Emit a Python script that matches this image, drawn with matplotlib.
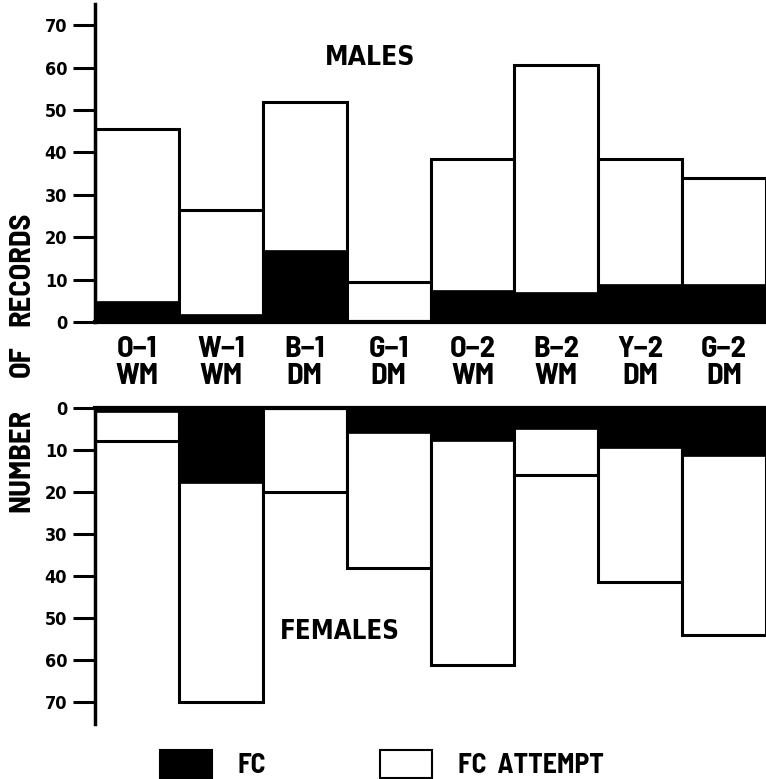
import matplotlib
matplotlib.use("Agg")
import matplotlib.pyplot as plt
import numpy as np
from matplotlib.patches import Patch

plt.rcParams["font.family"] = ["Barlow Semi Condensed", "DejaVu Sans"]
plt.rcParams["font.weight"] = "bold"
WIDE = dict(family=["DejaVu Sans"], stretch="condensed", weight="bold")

categories = ["O\u22121\nWM", "W\u22121\nWM", "B\u22121\nDM", "G\u22121\nDM",
              "O\u22122\nWM", "B\u22122\nWM", "Y\u22122\nDM", "G\u22122\nDM"]

# males: total records (FC attempt) and FC part
male_total = [45.5, 26.5, 52, 9.5, 38.5, 60.5, 38.5, 34]
male_fc = [5, 2, 17, 0, 7.5, 7, 9, 9]

# females
female_total = [8, 70, 20, 38, 61, 16, 41.5, 54]
female_fc = [1, 18, 0, 6, 8, 5, 9.5, 11.5]

yticks = [0, 10, 20, 30, 40, 50, 60, 70]

W, H = 766, 779
fig = plt.figure(figsize=(W / 100, H / 100), dpi=100)

left = 95 / W
width = 1 - left
ax1 = fig.add_axes([left, 1 - 322 / H, width, 318 / H])
ax2 = fig.add_axes([left, 1 - 723.5 / H, width, 315.8 / H])

x = np.arange(len(categories))
edge_lw = 2.2


def draw(ax, total, fc):
    ax.bar(x, total, width=1.0, align="edge", color="white",
           edgecolor="black", linewidth=edge_lw, zorder=2)
    ax.bar(x, fc, width=1.0, align="edge", color="black",
           edgecolor="black", linewidth=0.5, zorder=3)
    ax.set_xlim(0, 8)
    ax.set_yticks(yticks)
    ax.set_yticklabels([str(t) for t in yticks], fontsize=13, **WIDE)
    ax.tick_params(axis="y", direction="out", length=16, width=2.2, pad=4)
    ax.spines["right"].set_visible(False)
    ax.spines["left"].set_linewidth(2.5)


draw(ax1, male_total, male_fc)
ax1.set_ylim(0, 75)
ax1.spines["top"].set_visible(False)
ax1.spines["bottom"].set_linewidth(3)
ax1.spines["bottom"].set_zorder(4)
ax1.set_xticks(x + 0.5)
ax1.set_xticklabels(categories, fontsize=22, fontweight="bold", linespacing=1.0)
ax1.tick_params(axis="x", length=0, pad=10)
ax1.text(0.41, 0.83, "MALES", transform=ax1.transAxes, ha="center",
         va="center", fontsize=19, **WIDE)

draw(ax2, female_total, female_fc)
ax2.set_ylim(75, 0)
ax2.spines["bottom"].set_visible(False)
ax2.spines["top"].set_linewidth(3)
ax2.spines["top"].set_zorder(4)
ax2.set_xticks([])
ax2.text(0.365, 0.29, "FEMALES", transform=ax2.transAxes, ha="center",
         va="center", fontsize=18.5, **WIDE)

# y label, spread out like the original lettering
for word, ypix in [("RECORDS", 269), ("OF", 361), ("NUMBER", 460)]:
    fig.text(0.029, 1 - ypix / H, word, rotation=90, ha="center",
             va="center", fontsize=22, fontweight="bold")

handles = [Patch(facecolor="black", edgecolor="black", linewidth=1.5),
           Patch(facecolor="white", edgecolor="black", linewidth=1.5)]
fig.legend(handles, ["FC", "FC  ATTEMPT"], loc="lower left",
           bbox_to_anchor=(135 / W, -0.031), ncol=2, frameon=False,
           handlelength=1.87, handleheight=1.19, handletextpad=0.93,
           columnspacing=4.1, prop={"size": 20, "weight": "bold"})

fig.savefig("out.png", dpi=100)
